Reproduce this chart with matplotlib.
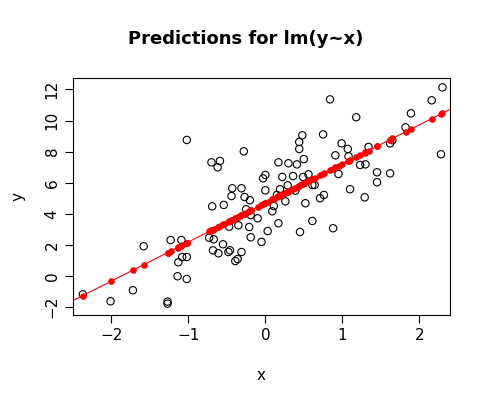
import numpy as np
import matplotlib
matplotlib.use("Agg")
import matplotlib.pyplot as plt

x = [-2.37,-2.01,-1.72,-1.58,-1.27,-1.27,-1.23,-1.13,-1.14,-1.09,-1.08,-1.02,-1.02,-1.02,
     -0.70,-0.59,-0.62,-0.28,-0.69,-0.54,-0.43,-0.44,-0.31,-0.27,-0.20,-0.25,-0.19,-0.10,
     -0.47,-0.35,-0.21,-0.73,-0.67,-0.55,-0.19,-0.05,-0.68,-0.61,-0.48,-0.46,-0.31,-0.39,
     -0.36,-0.03,0.00,0.00,0.03,0.09,0.11,0.17,0.17,0.22,0.19,0.15,0.26,0.30,0.29,0.36,
     0.39,0.41,0.44,0.44,0.48,0.50,0.49,0.52,0.45,0.56,0.61,0.64,0.61,0.71,0.76,0.75,
     0.84,0.88,0.91,0.95,0.99,1.07,1.08,1.10,1.18,1.23,1.30,1.29,1.34,1.45,1.45,1.62,
     1.62,1.65,1.82,1.89,2.16,2.30,2.28]
y = [-1.18,-1.63,-0.92,1.91,-1.65,-1.78,2.31,0.88,-0.02,2.31,1.22,1.22,-0.19,8.75,
     7.31,7.40,6.99,8.02,4.48,4.57,5.64,5.14,5.64,5.08,4.87,4.29,3.92,3.71,
     3.17,3.26,3.15,2.46,2.36,2.04,2.49,2.19,1.65,1.46,1.54,1.65,1.54,0.96,
     1.09,6.28,6.50,5.51,2.89,4.16,4.50,3.39,7.31,6.37,5.58,5.21,4.80,7.25,5.83,6.43,
     5.49,7.18,8.17,8.62,9.05,7.52,6.37,4.68,2.83,6.54,5.85,5.85,3.54,5.00,5.21,9.11,
     11.36,3.07,7.76,6.56,8.53,8.17,7.70,5.58,10.21,7.14,7.18,5.06,8.30,6.67,6.03,6.60,
     8.53,8.73,9.56,10.46,11.30,12.13,7.83]

x = np.array(x); y = np.array(y)
b, a = np.polyfit(x, y, 1)
pred = a + b * x

fig = plt.figure(figsize=(4.92, 4.11), dpi=100)
ax = fig.add_axes([0.148, 0.234, 0.767, 0.576])
ax.scatter(x, y, s=28, facecolors='none', edgecolors='black', linewidths=0.8, zorder=2)
xl = (-2.50, 2.40)
ax.set_xlim(*xl)
ax.set_ylim(-2.5, 12.73)
xx = np.array(xl)
ax.plot(xx, a + b * xx, color='red', lw=0.8, zorder=3)
ax.scatter(x, pred, s=14, color='red', zorder=4)
ax.set_xticks([-2, -1, 0, 1, 2])
ax.set_yticks([-2, 0, 2, 4, 6, 8, 10, 12])
ax.tick_params(direction='out', length=6, labelsize=11)
for lab in ax.get_yticklabels():
    lab.set_rotation(90); lab.set_va('center')
ax.set_xlabel('x', fontsize=11, labelpad=18)
ax.set_ylabel('y', fontsize=11, labelpad=14)
fig.text(0.5, 0.905, 'Predictions for lm(y~x)', ha='center', va='center', fontsize=13, fontweight='bold')
fig.savefig('out.png', dpi=100)
